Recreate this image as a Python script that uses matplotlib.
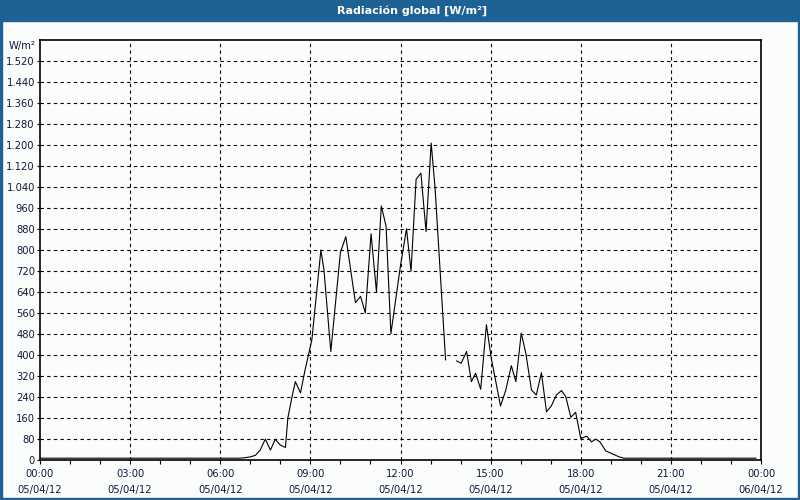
import numpy as np
import matplotlib
matplotlib.use("Agg")
import matplotlib.pyplot as plt
from matplotlib.patches import Rectangle
from matplotlib.ticker import MultipleLocator

# Global radiation, 05/04/12, time in hours of the day (NaN = missing sample)
hours = [0.0, 6.67, 6.83, 7.0, 7.17, 7.33, 7.5, 7.67, 7.83, 8.0, 8.17, 8.25,
         8.39, 8.5, 8.67, 8.83, 9.05, 9.35, 9.45, 9.68, 10.0, 10.18, 10.5,
         10.67, 10.83, 11.02, 11.2, 11.36, 11.52, 11.68, 12.0, 12.2, 12.35,
         12.52, 12.68, 12.85, 13.02, 13.15, 13.5, 13.67, 13.87, 14.02, 14.2,
         14.36, 14.5, 14.67, 14.86, 15.02, 15.33, 15.5, 15.69, 15.84, 16.02,
         16.17, 16.36, 16.52, 16.69, 16.86, 17.02, 17.19, 17.36, 17.5, 17.67,
         17.83, 18.0, 18.2, 18.36, 18.5, 18.64, 18.83, 19.06, 19.28, 19.44,
         23.83]
radiation = [5, 5, 7, 10, 16, 36, 78, 36, 77, 55, 46, 158,
             240, 297, 254, 345, 457, 799, 725, 412, 790, 850, 598,
             622, 559, 861, 639, 967, 890, 480, 740, 880, 718,
             1069, 1092, 869, 1207, 1037, 380, np.nan, 376, 367, 412,
             297, 329, 268, 514, 387, 204, 263, 358, 297, 482,
             406, 265, 246, 331, 182, 204, 246, 263, 240, 161,
             180, 80, 89, 67, 78, 67, 33, 21, 10, 5,
             5]

x_ticks = [0, 3, 6, 9, 12, 15, 18, 21, 24]
x_labels = ["00:00\n05/04/12", "03:00\n05/04/12", "06:00\n05/04/12",
            "09:00\n05/04/12", "12:00\n05/04/12", "15:00\n05/04/12",
            "18:00\n05/04/12", "21:00\n05/04/12", "00:00\n06/04/12"]
y_ticks = list(range(0, 1521, 80))
y_labels = [f"{v:,}".replace(",", ".") for v in y_ticks]

blue = "#1e6195"
txt = "#14183c"
plt.rcParams["font.family"] = "DejaVu Sans"

W, H = 800, 500
fig = plt.figure(figsize=(8, 5), dpi=100, facecolor="#fbfdfd")

# window frame: title bar + thin border
fig.patches.append(Rectangle((0, 1 - 21 / H), 1, 21 / H, transform=fig.transFigure,
                             color=blue, zorder=0))
fig.patches.append(Rectangle((0, 0), 2 / W, 1, transform=fig.transFigure, color=blue, zorder=0))
fig.patches.append(Rectangle((1 - 2 / W, 0), 2 / W, 1, transform=fig.transFigure, color=blue, zorder=0))
fig.patches.append(Rectangle((0, 0), 1, 2 / H, transform=fig.transFigure, color=blue, zorder=0))
fig.text(412 / W, 1 - 10.5 / H, "Radiación global [W/m²]", color="white",
         fontsize=8, fontweight="bold", ha="center", va="center")

ax = fig.add_axes([40 / W, (H - 459.5) / H, 721 / W, 419.5 / H])
ax.set_facecolor("#fbfdfd")
ax.plot(hours, radiation, color="black", lw=0.8)

ax.set_xlim(0, 24)
ax.set_ylim(0, 1600)
ax.set_xticks(x_ticks)
ax.set_xticklabels(x_labels, linespacing=1.75)
ax.xaxis.set_minor_locator(MultipleLocator(1))
ax.set_yticks(y_ticks)
ax.set_yticklabels(y_labels)

ax.tick_params(axis="both", which="both", direction="out", colors="black",
               labelcolor=txt, labelsize=7.2, width=0.8)
ax.tick_params(axis="x", which="both", length=3)
ax.tick_params(axis="x", which="major", pad=4)
ax.tick_params(axis="y", length=2.2, pad=1.5)

for v in y_ticks[1:]:
    ax.axhline(v, color="black", lw=0.8, ls=(0, (3, 3)), zorder=1)
for h in x_ticks[1:-1]:
    ax.axvline(h, color="black", lw=0.8, ls=(0, (3, 3)), zorder=1)

for s in ax.spines.values():
    s.set_linewidth(1.2)

fig.text(36 / W, 1 - 46 / H, "W/m²", color=txt, fontsize=7.2, ha="right", va="center")

fig.savefig("out.png", dpi=100, facecolor=fig.get_facecolor())
